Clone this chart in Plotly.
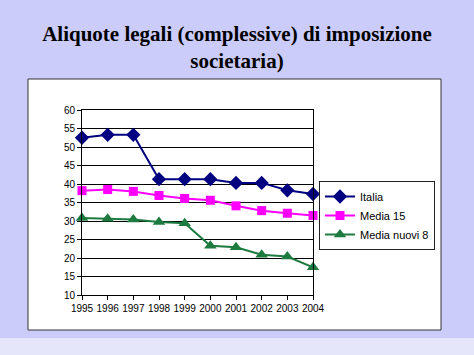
import plotly.graph_objects as go

years = [1995, 1996, 1997, 1998, 1999, 2000, 2001, 2002, 2003, 2004]
italia = [52.5, 53.3, 53.3, 41.3, 41.3, 41.3, 40.3, 40.3, 38.3, 37.3]
media15 = [38.2, 38.5, 38.0, 36.9, 36.1, 35.6, 34.1, 32.8, 32.1, 31.5]
nuovi8 = [30.8, 30.6, 30.4, 29.7, 29.4, 23.3, 22.9, 20.9, 20.4, 17.5]
yticks = [10, 15, 20, 25, 30, 35, 40, 45, 50, 55, 60]

W, H = 474, 355
L, R, T, B = 82, 313, 110, 295
pw, ph = R - L, B - T

def px(x):
    return (x - L) / pw

def py(y):
    return (B - y) / ph

fig = go.Figure()
fig.add_trace(go.Scatter(x=years, y=italia, name="Italia", mode="lines+markers",
                         line=dict(color="#000080", width=2), cliponaxis=False,
                         marker=dict(symbol="diamond", size=11, color="#000080")))
fig.add_trace(go.Scatter(x=years, y=media15, name="Media 15", mode="lines+markers",
                         line=dict(color="#FF00FF", width=2), cliponaxis=False,
                         marker=dict(symbol="square", size=9, color="#FF00FF")))
fig.add_trace(go.Scatter(x=years, y=nuovi8, name="Media nuovi 8", mode="lines+markers",
                         line=dict(color="#1E7B40", width=2), cliponaxis=False,
                         marker=dict(symbol="triangle-up", size=11, color="#1E7B40")))

fig.update_layout(
    width=W, height=H,
    margin=dict(l=L, r=W - R, t=T, b=H - B),
    paper_bgcolor="#CCCCFA",
    plot_bgcolor="white",
    font=dict(family="Arial, Liberation Sans", size=10, color="black"),
    title=dict(text="<b>Aliquote legali (complessive) di imposizione<br>societaria)</b>",
               x=0.5, xref="container", xanchor="center", y=0.885, yref="container", yanchor="top",
               font=dict(family="Liberation Serif, Times New Roman", size=21, color="black")),
    showlegend=True,
    legend=dict(x=px(319), y=py(181), xanchor="left", yanchor="top",
                bgcolor="white", bordercolor="#222222", borderwidth=1,
                font=dict(family="Arial, Liberation Sans", size=11),
                tracegroupgap=0, itemwidth=30),
    xaxis=dict(range=[1995, 2004], tickmode="array", tickvals=years,
               ticktext=[str(y) for y in years],
               showgrid=False, showline=True, linecolor="black", linewidth=1, mirror=True,
               ticks="outside", ticklen=4, tickcolor="black", zeroline=False),
    yaxis=dict(range=[10, 60], tickmode="array", tickvals=yticks,
               showgrid=True, gridcolor="black", gridwidth=1,
               showline=True, linecolor="black", linewidth=1, mirror=True,
               ticks="outside", ticklen=4, tickcolor="black", zeroline=False),
    shapes=[
        dict(type="rect", xref="paper", yref="paper", x0=px(0), x1=px(W), y0=py(338), y1=py(H),
             fillcolor="#E6E6FA", line=dict(width=0), layer="below"),
        dict(type="rect", xref="paper", yref="paper", x0=px(28), x1=px(441), y0=py(330), y1=py(79),
             fillcolor="white", line=dict(color="#333333", width=1), layer="below"),
    ],
)

fig.write_html("out.html", config={"displayModeBar": False},
               post_script="document.body.style.margin='0';document.body.style.overflow='hidden';")
